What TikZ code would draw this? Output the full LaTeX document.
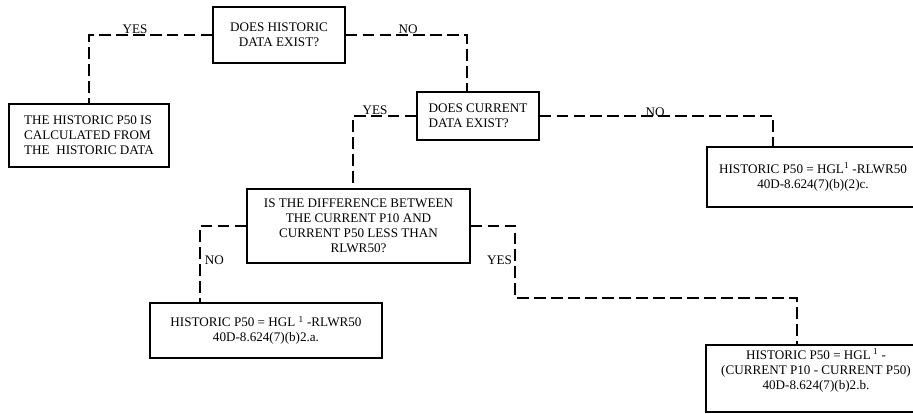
\documentclass[tikz,border=0pt]{standalone}
\usepackage{fontspec}
\setmainfont{Liberation Serif}
\usepackage{tikz}
\usetikzlibrary{positioning}

\begin{document}
\begin{tikzpicture}[x=0.03cm,y=-0.03cm,
    font=\fontsize{11.2}{12.8}\selectfont,
    flowbox/.style={draw,line width=0.9pt,align=center,inner sep=2pt},
    flowline/.style={line width=1.3pt,dash pattern=on 10pt off 4.5pt},
    answer/.style={inner sep=1.5pt}]
      \useasboundingbox (0,0) rectangle (913,413);
      \node[flowbox,minimum width=3.96cm,minimum height=1.68cm] (histq) at (279,35) {DOES HISTORIC\\DATA EXIST?};
      \node[flowbox,align=left,minimum width=4.8cm,minimum height=1.89cm] (histres) at (89,135.5) {THE HISTORIC P50 IS\\CALCULATED FROM\\THE \ HISTORIC DATA};
      \node[flowbox,align=left,minimum width=3.66cm,minimum height=1.44cm] (currq) at (478,116) {DOES CURRENT\\ DATA EXIST?};
      \node[flowbox,minimum width=6.36cm,minimum height=1.8cm] (nocurr) at (813,177) {HISTORIC P50 = HGL\textsuperscript{1} -RLWR50\\40D-8.624(7)(b)(2)c.};
      \node[flowbox,minimum width=6.69cm,minimum height=2.22cm] (diffq) at (358.5,226) {IS THE DIFFERENCE BETWEEN\\THE CURRENT P10 AND\\CURRENT P50 LESS THAN\\RLWR50?};
      \node[flowbox,minimum width=6.96cm,minimum height=1.65cm] (diffno) at (266,330.5) {HISTORIC P50 = HGL \textsuperscript{1} -RLWR50\\40D-8.624(7)(b)2.a.};
      \node[flowbox,minimum width=6.6cm,minimum height=2.01cm] (diffyes) at (816,378.5) {HISTORIC P50 = HGL\,\textsuperscript{1} -\\(CURRENT P10 - CURRENT P50)\\40D-8.624(7)(b)2.b.\\[3pt]};
      \draw[flowline] (histq.west) -| (histres.north);
      \draw[flowline] (histq.east) -| ([xshift=-0.33cm]currq.north);
      \draw[flowline] (currq.west) -| ([xshift=-0.165cm]diffq.north);
      \draw[flowline] (currq.east) -| ([xshift=-1.2cm]nocurr.north);
      \draw[flowline] (diffq.west) -| ([xshift=-1.98cm]diffno.north);
      \draw[flowline] (diffq.east) -- (515,226) -- (515,298) -| ([xshift=-0.57cm]diffyes.north);
      \node[answer,anchor=south] (yes1) at (135,36) {YES};
      \node[answer,anchor=south] (no1) at (408,36) {NO};
      \node[answer,anchor=south] (yes2) at (375,117) {YES};
      \node[answer,anchor=south] (no2) at (655,119) {NO};
      \node[answer,anchor=west] (no3) at (203,260) {NO};
      \node[answer,anchor=east] (yes3) at (514,260) {YES};
\end{tikzpicture}
\end{document}
